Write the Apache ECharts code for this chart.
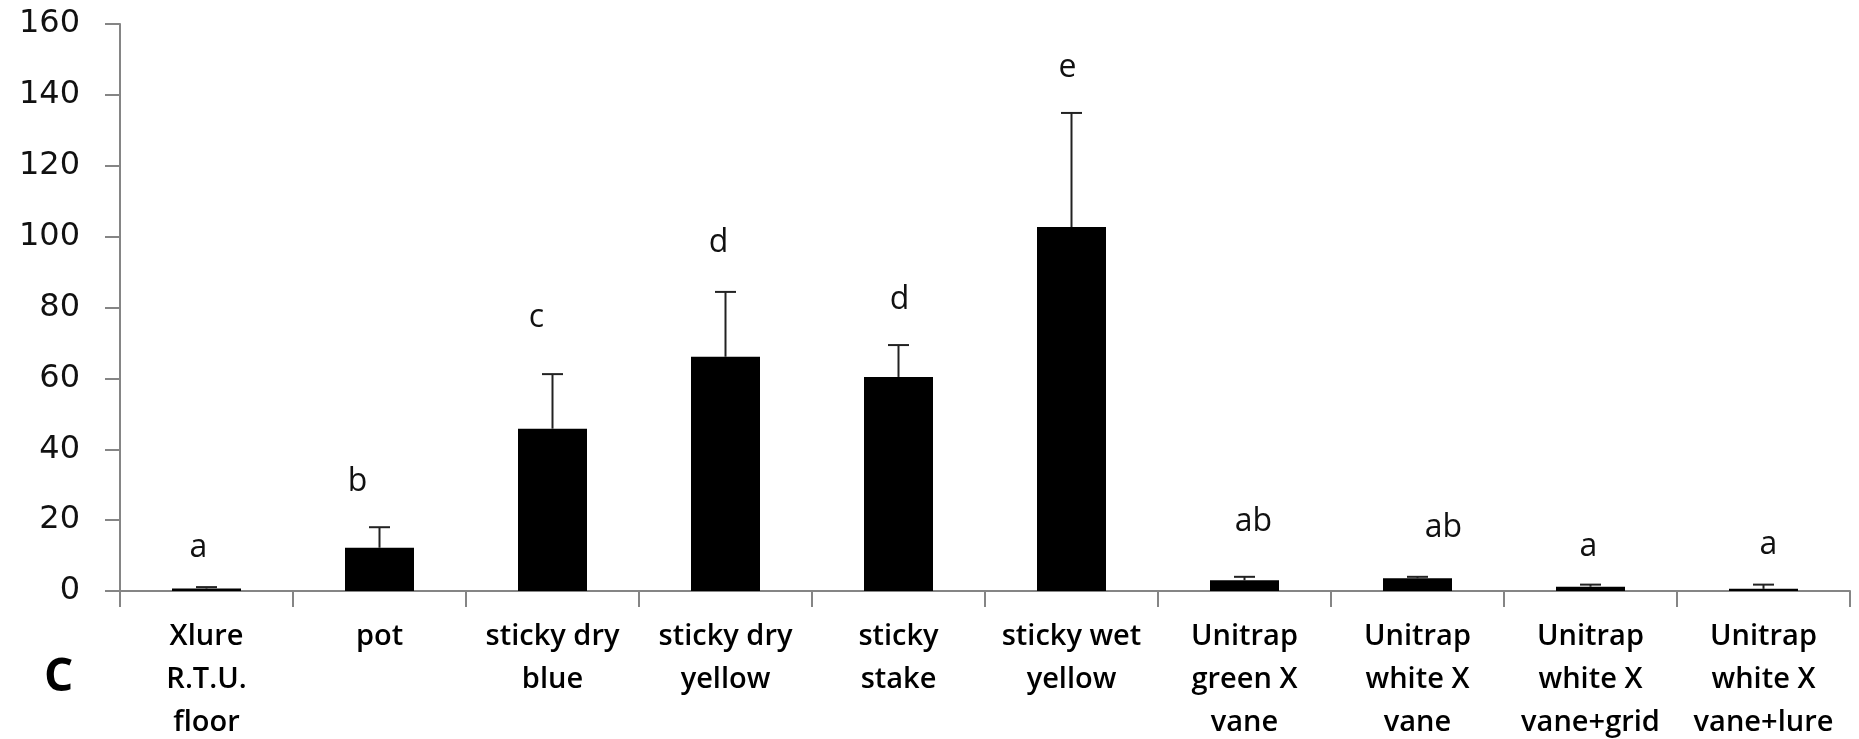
<!DOCTYPE html>
<html>
<head>
<meta charset="utf-8">
<script src="https://cdn.jsdelivr.net/npm/echarts@6/dist/echarts.min.js"></script>
<style>
  html, body { margin: 0; padding: 0; background: #fff; }
  #chart { width: 1859px; height: 739px; }
</style>
</head>
<body>
<div id="chart"></div>
<script>
// Trap types compared
const categories = [
  'Xlure\nR.T.U.\nfloor',
  'pot',
  'sticky dry\nblue',
  'sticky dry\nyellow',
  'sticky\nstake',
  'sticky wet\nyellow',
  'Unitrap\ngreen X\nvane',
  'Unitrap\nwhite X\nvane',
  'Unitrap\nwhite X\nvane+grid',
  'Unitrap\nwhite X\nvane+lure'
];

// Mean catch per trap and its standard error
const means  = [0.7, 12.2, 45.8, 66.1, 60.4, 102.7, 3.0, 3.6, 1.2, 0.6];
const errors = [0.4, 5.8, 15.4, 18.3, 9.0, 32.2, 1.0, 0.4, 0.6, 1.2];

// Significance groups
const letters = ['a', 'b', 'c', 'd', 'd', 'e', 'ab', 'ab', 'a', 'a'];

// Height (in axis units) at which each group letter sits
const letterLevels = [12.1, 30.8, 77.0, 98.2, 82.1, 147.6, 19.6, 17.8, 12.5, 13.0];

// Panel tag
const panelTag = 'C';

// Small horizontal nudges of the letters, in pixels
const letterNudge = [-8, -22, -16, -7, 1, -4, 9, 26, -2, 5];

const chart = echarts.init(document.getElementById('chart'), null, { renderer: 'canvas' });

const axisGray = '#858585';
const labelFont = '"Open Sans", Lato, sans-serif';

const option = {
  backgroundColor: '#ffffff',
  animation: false,
  grid: { left: 120, right: 9, top: 24, bottom: 148, outerBoundsMode: 'none', containLabel: false },
  xAxis: {
    type: 'category',
    data: categories,
    boundaryGap: true,
    axisLine: { lineStyle: { color: axisGray, width: 2 } },
    axisTick: { show: true, alignWithLabel: false, length: 16, lineStyle: { color: axisGray, width: 2 } },
    axisLabel: {
      interval: 0,
      margin: 24,
      color: '#000',
      fontFamily: labelFont,
      fontWeight: 600,
      fontSize: 29,
      lineHeight: 43,
      align: 'center'
    },
    splitLine: { show: false }
  },
  yAxis: {
    type: 'value',
    min: 0,
    max: 160,
    interval: 20,
    axisLine: { show: true, lineStyle: { color: axisGray, width: 2 } },
    axisTick: { show: true, length: 15, lineStyle: { color: axisGray, width: 2 } },
    axisLabel: {
      margin: 40,
      color: '#111',
      fontFamily: '"DejaVu Sans", Verdana, sans-serif',
      fontSize: 32
    },
    splitLine: { show: false }
  },
  graphic: [{
    type: 'text',
    left: 44,
    top: 655,
    style: {
      text: panelTag,
      font: 'bold 46px "Open Sans", Lato, sans-serif',
      fill: '#000'
    }
  }],
  series: [
    {
      type: 'bar',
      data: means,
      barWidth: 69,
      itemStyle: { color: '#000' },
      z: 2
    },
    {
      // upper error bars
      type: 'custom',
      data: means.map((m, i) => [i, m, m + errors[i]]),
      renderItem: function (params, api) {
        const i = api.value(0);
        const base = api.coord([i, api.value(1)]);
        const top = api.coord([i, api.value(2)]);
        const half = 10.5;
        return {
          type: 'group',
          children: [
            { type: 'line', shape: { x1: base[0], y1: base[1], x2: top[0], y2: top[1] },
              style: { stroke: '#222', lineWidth: 2 } },
            { type: 'line', shape: { x1: top[0] - half, y1: top[1], x2: top[0] + half, y2: top[1] },
              style: { stroke: '#222', lineWidth: 2 } }
          ]
        };
      },
      z: 3
    },
    {
      // group letters
      type: 'custom',
      data: letterLevels.map((v, i) => [i, v]),
      renderItem: function (params, api) {
        const i = api.value(0);
        const p = api.coord([i, api.value(1)]);
        return {
          type: 'text',
          x: p[0] + letterNudge[params.dataIndex],
          y: p[1],
          style: {
            text: letters[params.dataIndex],
            font: '32px "Open Sans", Lato, sans-serif',
            fill: '#111',
            align: 'center',
            verticalAlign: 'middle'
          }
        };
      },
      z: 4
    }
  ]
};

chart.setOption(option);
</script>
</body>
</html>
